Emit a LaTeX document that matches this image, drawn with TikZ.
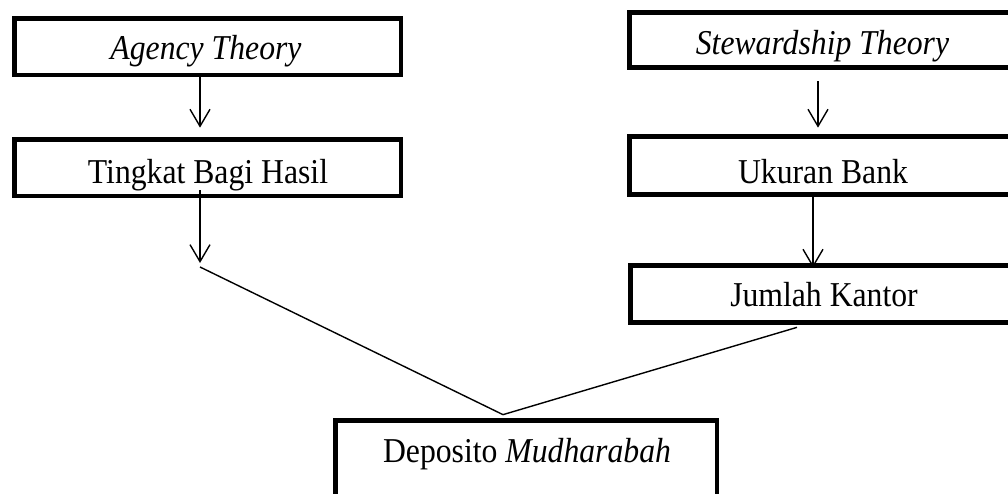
\documentclass[tikz,border=0pt]{standalone}
\usepackage{fontspec}
\setmainfont{Liberation Serif}
\usetikzlibrary{arrows.meta}
\newcommand{\vsc}[1]{\scalebox{1}[1.1]{#1}}
\begin{document}
\begin{tikzpicture}[x=1pt,y=-1pt,
  box/.style={draw, line width=4.7pt, inner sep=0pt, rectangle, minimum width=386.5pt},
  lbl/.style={anchor=base, inner sep=0pt, font=\fontsize{31.7}{38}\selectfont},
  conn/.style={line width=1.4pt},
  arr/.style={conn, -{Straight Barb[length=17pt,width=20pt,line width=1.4pt]}}]
\clip (0,0) rectangle (1008,494);
\fill[white] (0,0) rectangle (1008,494);
% boxes
\node[box, minimum height=56.5pt] (A) at (207.75,46.75) {};
\node[box, minimum height=56.5pt] (T) at (207.75,167.75) {};
\node[box, minimum height=55pt] (S) at (822.75,40) {};
\node[box, minimum height=58pt] (U) at (822.75,165.5) {};
\node[box, minimum height=57pt] (J) at (823.75,294) {};
\node[box, minimum width=381.5pt, minimum height=89.5pt] (D) at (526.25,465.25) {};
% labels
\node[lbl] (tA) at (206,59.5) {\vsc{\textit{Agency Theory}}};
\node[lbl] (tT) at (208,183.3) {\vsc{Tingkat Bagi Hasil}};
\node[lbl] (tS) at (822.5,54.3) {\vsc{\textit{Stewardship Theory}}};
\node[lbl] (tU) at (823,183.5) {\vsc{Ukuran Bank}};
\node[lbl] (tJ) at (824,306.7) {\vsc{Jumlah Kantor}};
\node[lbl] (tD) at (527,462) {\vsc{Deposito \textit{Mudharabah}}};
% connectors
\coordinate (m1) at (200,263);
\draw[arr] ([xshift=-7.75pt]A.south) -- ([xshift=-7.75pt,yshift=9.5pt]T.north);
\draw[arr] ([xshift=-7.75pt,yshift=8pt]T.south) -- (m1);
\draw[conn] ([yshift=-4pt]m1) -- ([xshift=-23.25pt,yshift=3.5pt]D.north);
\draw[arr] ([xshift=-4.75pt,yshift=-11.5pt]S.south) -- ([xshift=-4.75pt,yshift=6.5pt]U.north);
\draw[arr] ([xshift=-9.75pt]U.south) -- ([xshift=-10.75pt,yshift=-4.5pt]J.north);
\draw[conn] ([xshift=-26.75pt,yshift=-2.5pt]J.south) -- ([xshift=-23.25pt,yshift=3.5pt]D.north);
\end{tikzpicture}
\end{document}
